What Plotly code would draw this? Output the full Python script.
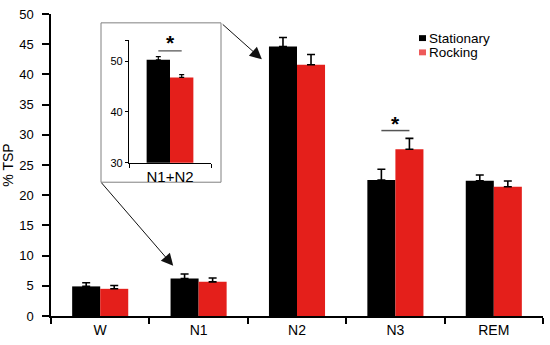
import plotly.graph_objects as go

# ---- data ----
categories = ["W", "N1", "N2", "N3", "REM"]
stationary = [4.9, 6.2, 44.6, 22.5, 22.4]
stationary_err = [0.6, 0.75, 1.5, 1.8, 0.95]
rocking = [4.5, 5.65, 41.6, 27.6, 21.4]
rocking_err = [0.55, 0.65, 1.7, 1.8, 0.95]

inset_cat = ["N1+N2"]
inset_stationary = [50.25]
inset_stationary_err = [0.65]
inset_rocking = [46.8]
inset_rocking_err = [0.55]

main_ticks = [0, 5, 10, 15, 20, 25, 30, 35, 40, 45, 50]
inset_ticks = [30, 40, 50, 54.1]
inset_ticktext = ["30", "40", "50", ""]

BLACK = "#000000"
RED = "#e41f1b"
FONT = "Arial, Liberation Sans, sans-serif"

# layout helpers (pixel -> paper)
L, R, T, B = 51, 7, 10, 28
W, H = 550, 345
PW, PH = W - L - R, H - T - B


def px(x):
    return (x - L) / PW


def py(y):
    return (H - B - y) / PH


fig = go.Figure()

err_style = dict(type="data", symmetric=False, width=4, thickness=1.6)

fig.add_trace(go.Bar(x=categories, y=stationary, name="Stationary",
                     marker=dict(color=BLACK, line=dict(width=0)),
                     error_y=dict(array=stationary_err, arrayminus=[0] * 5,
                                  color=BLACK, **err_style)))
fig.add_trace(go.Bar(x=categories, y=rocking, name="Rocking",
                     marker=dict(color=RED, line=dict(width=0)),
                     error_y=dict(array=rocking_err, arrayminus=[0] * 5,
                                  color=BLACK, **err_style)))

err_small = dict(type="data", symmetric=False, width=2.5, thickness=1.2)
fig.add_trace(go.Bar(x=inset_cat, y=inset_stationary, xaxis="x2", yaxis="y2",
                     marker=dict(color=BLACK, line=dict(width=0)), showlegend=False,
                     error_y=dict(array=inset_stationary_err, arrayminus=[0],
                                  color=BLACK, **err_small)))
fig.add_trace(go.Bar(x=inset_cat, y=inset_rocking, xaxis="x2", yaxis="y2",
                     marker=dict(color=RED, line=dict(width=0)), showlegend=False,
                     error_y=dict(array=inset_rocking_err, arrayminus=[0],
                                  color=BLACK, **err_small)))

shapes = []
annotations = []

# inset frame
shapes.append(dict(type="rect", xref="paper", yref="paper",
                   x0=px(101), x1=px(221), y0=py(181), y1=py(19),
                   line=dict(color="#808080", width=1), fillcolor="white",
                   layer="below"))

# significance in main (N3)
half = (1 - 0.43) / 4
shapes.append(dict(type="line", xref="x", yref="y", x0=3 - half, x1=3 + half,
                   y0=30.7, y1=30.7, line=dict(color="#555555", width=1.5)))
annotations.append(dict(x=3, y=30.7, xref="x", yref="y", text="<b>*</b>",
                        showarrow=False, yanchor="bottom", yshift=-6,
                        font=dict(size=21, color=BLACK, family=FONT)))

# significance in inset
shapes.append(dict(type="line", xref="x2", yref="y2", x0=-half, x1=half,
                   y0=52.0, y1=52.0, line=dict(color="#555555", width=1.2)))
annotations.append(dict(x=0, y=52.0, xref="x2", yref="y2", text="<b>*</b>",
                        showarrow=False, yanchor="bottom", yshift=-5,
                        font=dict(size=21, color=BLACK, family=FONT)))

# arrows
annotations.append(dict(x=1.643, y=42.5, ax=1.23, ay=48.5, xref="x", yref="y",
                        axref="x", ayref="y", text="", showarrow=True,
                        arrowhead=2, arrowsize=2.4, arrowwidth=1,
                        arrowcolor="#111111"))
annotations.append(dict(x=0.742, y=8.3, ax=0.0, ay=22.3, xref="x", yref="y",
                        axref="x", ayref="y", text="", showarrow=True,
                        arrowhead=2, arrowsize=2.4, arrowwidth=1,
                        arrowcolor="#111111"))

# legend (manual)
shapes.append(dict(type="rect", xref="paper", yref="paper",
                   x0=px(419), x1=px(426), y0=py(37.5), y1=py(31.5),
                   line=dict(width=0), fillcolor=BLACK))
shapes.append(dict(type="rect", xref="paper", yref="paper",
                   x0=px(419), x1=px(426), y0=py(52), y1=py(46),
                   line=dict(width=0), fillcolor="#ee5a5a"))
annotations.append(dict(x=px(427), y=py(34.5), xref="paper", yref="paper",
                        text="Stationary", showarrow=False, xanchor="left",
                        yanchor="middle", font=dict(size=13.5, color=BLACK, family=FONT)))
annotations.append(dict(x=px(427), y=py(49), xref="paper", yref="paper",
                        text="Rocking", showarrow=False, xanchor="left",
                        yanchor="middle", font=dict(size=13.5, color=BLACK, family=FONT)))

fig.update_layout(
    width=W, height=H,
    margin=dict(l=L, r=R, t=T, b=B, pad=0),
    paper_bgcolor="white", plot_bgcolor="rgba(0,0,0,0)",
    barmode="group", bargap=0.43, bargroupgap=0,
    showlegend=False,
    font=dict(family=FONT, color=BLACK),
    xaxis=dict(type="category", categoryorder="array", categoryarray=categories,
               showline=True, linecolor=BLACK, linewidth=1.5,
               ticks="outside", ticklen=6, tickwidth=1.5, tickcolor=BLACK,
               tickson="boundaries", showgrid=False, zeroline=False,
               tickfont=dict(size=14, family=FONT)),
    yaxis=dict(range=[0, 50], tickvals=main_ticks, showline=True, linecolor=BLACK,
               linewidth=1.5, ticks="outside", ticklen=7, tickwidth=1.5,
               tickcolor=BLACK, showgrid=False, zeroline=False,
               ticklabelstandoff=6,
               tickfont=dict(size=13, family=FONT),
               title=dict(text="% TSP", font=dict(size=14, family=FONT), standoff=2)),
    xaxis2=dict(domain=[px(129), px(211)], anchor="y2", type="category",
                showline=True, linecolor=BLACK, linewidth=1.2,
                ticks="outside", ticklen=4, tickwidth=1, tickcolor=BLACK,
                tickson="boundaries", showgrid=False, zeroline=False,
                tickfont=dict(size=15, family=FONT)),
    yaxis2=dict(domain=[py(161.3), py(36.7)], anchor="x2", range=[30, 54.1],
                tickvals=inset_ticks, ticktext=inset_ticktext,
                showline=True, linecolor=BLACK, linewidth=1.2,
                ticks="outside", ticklen=3, tickwidth=1, tickcolor=BLACK,
                showgrid=False, zeroline=False,
                tickfont=dict(size=11, family=FONT)),
    shapes=shapes,
    annotations=annotations,
)

fig.write_html("out.html")
